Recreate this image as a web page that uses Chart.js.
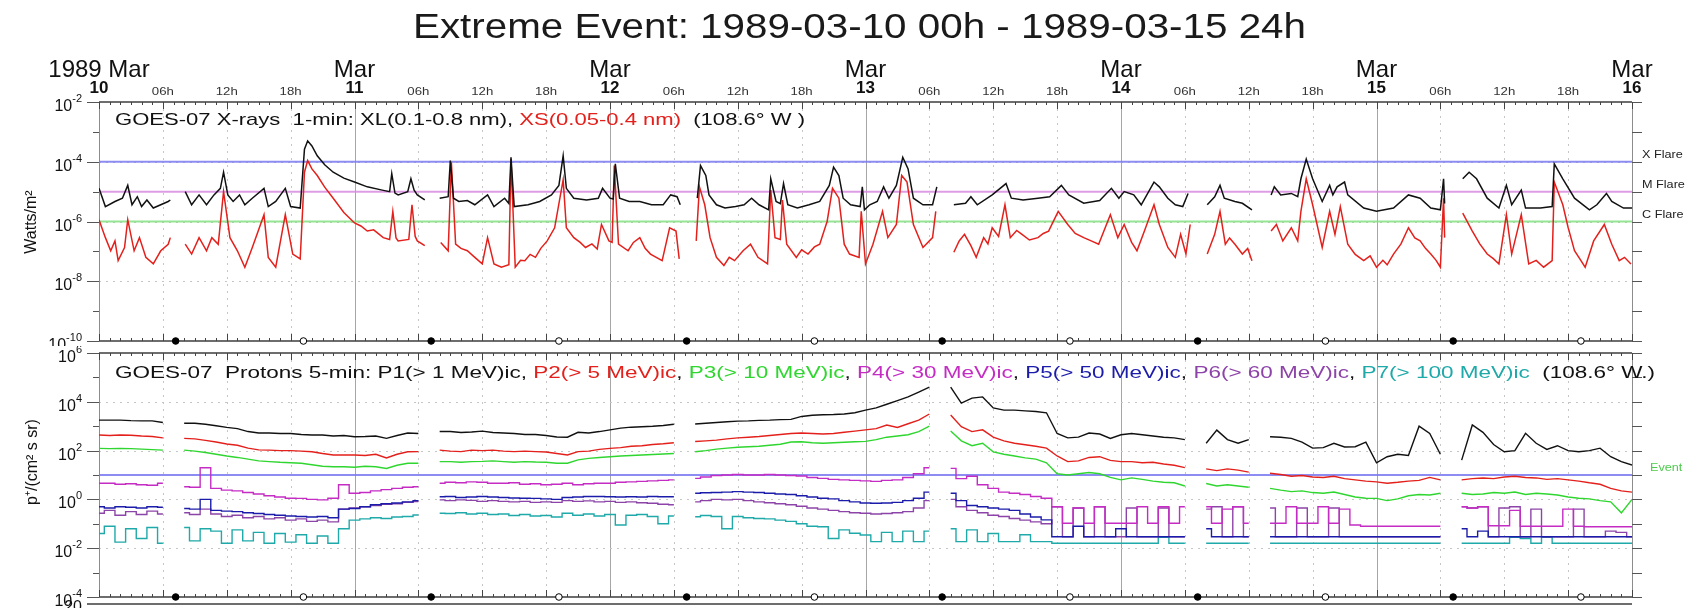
<!DOCTYPE html>
<html>
<head>
<meta charset="utf-8">
<title>Extreme Event: 1989-03-10 00h - 1989-03-15 24h</title>
<script src="https://cdn.jsdelivr.net/npm/chart.js@4.4.1/dist/chart.umd.min.js"></script>
<style>
  body { margin: 0; background: #fff; }
  #page { position: relative; width: 1692px; height: 608px; overflow: hidden; background: #fff;
          font-family: "Liberation Sans", Arial, Helvetica, sans-serif; color: #111; }
  canvas { position: absolute; left: 0; }
  .fit { position: absolute; white-space: pre; transform-origin: 0 0; }
  .ytitle { position: absolute; white-space: nowrap; font-size: 16px; transform: translate(-50%, -50%) rotate(-90deg); }
</style>
</head>
<body>
<div id="page">
  <canvas id="xray" width="1692" height="346" style="top:0"></canvas>
  <canvas id="protons" width="1692" height="262" style="top:346px"></canvas>

  <div class="fit" data-left="413" data-width="893" style="top:8px;font-size:35px;line-height:35px;color:#1a1a1a">Extreme Event: 1989-03-10 00h - 1989-03-15 24h</div>
  <div class="fit" data-left="115" data-width="690" style="top:111px;font-size:17px;line-height:17px">GOES-07 X-rays  1-min: XL(0.1-0.8 nm), <span style="color:#e3201b">XS(0.05-0.4 nm)</span>  (108.6° W )</div>
  <div class="fit" data-left="115" data-width="1540" style="top:364px;font-size:17px;line-height:17px">GOES-07  Protons 5-min: P1(&gt; 1 MeV)ic, <span style="color:#e3201b">P2(&gt; 5 MeV)ic</span>, <span style="color:#2fd62f">P3(&gt; 10 MeV)ic</span>, <span style="color:#c42cc4">P4(&gt; 30 MeV)ic</span>, <span style="color:#1c1caa">P5(&gt; 50 MeV)ic</span>, <span style="color:#8d44a8">P6(&gt; 60 MeV)ic</span>, <span style="color:#1fa9a9">P7(&gt; 100 MeV)ic</span>  (108.6° W.)</div>
  <div class="ytitle" style="left:31px;top:222px">Watts/m²</div>
  <div class="ytitle" style="left:31px;top:462px">p⁺/(cm² s sr)</div>
</div>

<script>
// time axis: hours since 1989-03-10 00 UT
var DAY_LABELS = ["10", "11", "12", "13", "14", "15", "16"];
var MONTH_LABELS = ["1989 Mar", "Mar", "Mar", "Mar", "Mar", "Mar", "Mar"];
var HOUR_LABELS = ["06h", "12h", "18h"];
var XRAY_EXP = [-2, -4, -6, -8, -10];
var PROTON_EXP = [6, 4, 2, 0, -2, -4];

// local midnight / noon at 108.6 W (UT hours)
var MIDNIGHT_UT = [7.2, 31.2, 55.2, 79.2, 103.2, 127.2];
var NOON_UT = [19.2, 43.2, 67.2, 91.2, 115.2, 139.2];

var FLARE_LEVELS = [1e-4, 1e-5, 1e-6];
var FLARE_NAMES = ["X Flare", "M Flare", "C Flare"];
var EVENT_LEVEL = 10;

// X-rays, [hour, log10(W/m2)]
var XL_LOG = [
  [0,-4.89],[0.6,-5.50],[1.5,-5.33],[2.2,-5.22],[2.7,-4.79],[3.1,-5.44],[3.6,-5.17],[4.0,-5.50],[4.5,-5.28],[5.1,-5.55],
  [5.8,-5.44],[6.5,-5.33],[6.7,-5.28],[7.4,null],
  [8.1,-5.00],[8.7,-5.44],[9.4,-5.11],[10.1,-5.44],[10.8,-5.11],[11.4,-4.89],[11.7,-4.35],[12.1,-5.11],[12.6,-5.33],[13.2,-5.11],
  [13.7,-5.44],[14.4,-5.22],[15.5,-4.89],[15.9,-5.50],[16.6,-5.33],[17.5,-4.89],[18.0,-5.50],[18.9,-5.55],[19.3,-3.58],[19.6,-3.30],
  [20.0,-3.47],[20.5,-3.80],[21.2,-4.10],[22.0,-4.35],[23.0,-4.55],[24.0,-4.68],[25.2,-4.84],[26.6,-4.95],[27.3,-5.00],[27.5,-4.40],
  [27.8,-5.05],[28.1,-5.11],[29.0,-5.00],[29.3,-4.57],[29.6,-4.95],[29.9,-5.11],[30.6,-5.28],[31.3,null],
  [32.0,-5.22],[32.8,-5.17],[33.0,-3.96],[33.3,-5.22],[33.8,-5.33],[34.6,-5.30],[35.3,-5.44],[36.5,-5.11],[37.1,-5.50],[38.1,-5.22],
  [38.5,-5.40],[38.7,-3.85],[39.0,-5.50],[40.3,-5.44],[41.4,-5.33],[42.5,-5.11],[43.2,-4.79],[43.6,-3.80],[43.9,-4.89],[44.6,-5.22],
  [45.8,-5.28],[46.9,-5.22],[47.3,-4.89],[48.0,-5.22],[48.3,-5.25],[48.5,-4.07],[48.9,-5.22],[49.8,-5.33],[50.8,-5.33],[51.9,-5.44],
  [53.0,-5.44],[53.7,-5.11],[54.3,-5.17],[54.6,-5.44],[55.4,null],
  [56.2,-5.22],[56.5,-4.13],[57.0,-4.46],[57.3,-5.11],[58.0,-5.44],[58.8,-5.55],[59.8,-5.50],[60.6,-5.44],[61.3,-5.22],[62.0,-5.44],
  [62.9,-5.61],[63.1,-4.57],[63.6,-5.33],[64.0,-5.40],[64.3,-4.73],[64.7,-5.44],[65.6,-5.55],[66.7,-5.44],[67.7,-5.33],[68.6,-4.79],
  [69.0,-4.18],[69.5,-4.46],[69.9,-5.22],[70.6,-5.44],[71.5,-5.50],[71.7,-4.84],[71.9,-5.61],[72.4,-5.44],[73.1,-5.33],[73.7,-4.84],
  [74.2,-5.22],[74.9,-4.79],[75.5,-3.85],[76.0,-4.24],[76.5,-5.22],[77.4,-5.44],[78.3,-5.44],[78.7,-4.84],[79.5,null],
  [80.3,-5.44],[81.4,-5.39],[81.9,-5.17],[82.5,-5.44],[83.9,-5.11],[85.2,-4.73],[85.7,-5.22],[86.8,-5.28],[88.2,-5.22],[89.3,-5.17],
  [90.4,-4.79],[91.1,-5.11],[92.5,-5.39],[94.0,-5.30],[95.1,-4.89],[95.8,-5.22],[96.3,-5.00],[97.2,-5.11],[97.9,-5.44],[99.1,-4.68],
  [99.6,-4.84],[100.4,-5.22],[101.1,-5.44],[101.8,-5.50],[102.3,-5.06],[103.2,null],
  [104.1,-5.44],[104.8,-5.17],[105.3,-4.79],[105.7,-5.22],[106.7,-5.33],[107.4,-5.39],[108.3,-5.61],[109.2,null],
  [110.1,-5.11],[110.4,-4.84],[111.0,-5.11],[112.0,-5.06],[112.6,-5.17],[112.9,-4.57],[113.4,-3.91],[114.0,-4.57],[114.9,-5.33],[115.6,-4.79],
  [115.9,-5.11],[116.3,-4.84],[117.0,-4.68],[117.3,-5.11],[118.8,-5.55],[120.0,-5.66],[121.6,-5.55],[123.0,-5.11],[124.1,-5.22],[125.1,-5.55],
  [126.0,-5.61],[126.3,-4.57],[126.4,-5.40],[127.2,null],
  [128.1,-4.57],[128.7,-4.35],[129.4,-4.57],[130.4,-5.22],[131.5,-5.55],[132.2,-4.79],[132.7,-5.44],[133.6,-4.95],[134.0,-5.55],[135.4,-5.55],
  [136.5,-5.50],[136.7,-4.07],[137.5,-4.57],[138.6,-5.22],[140.0,-5.61],[140.7,-5.44],[141.6,-5.06],[142.1,-5.33],[143.2,-5.55],[144.0,-5.55]
];
var XS_LOG = [
  [0,-5.94],[0.6,-6.54],[1.1,-6.98],[1.5,-6.65],[1.8,-7.31],[2.4,-6.87],[2.7,-5.94],[3.3,-6.98],[3.8,-6.54],[4.4,-7.20],
  [5.1,-7.42],[5.8,-6.98],[6.5,-6.76],[6.7,-6.54],[7.4,null],
  [8.1,-6.76],[8.7,-7.09],[9.4,-6.54],[10.1,-6.98],[10.6,-6.54],[11.2,-6.76],[11.7,-5.00],[12.3,-6.54],[13.0,-6.98],[13.7,-7.53],
  [14.4,-6.87],[15.5,-5.77],[15.9,-7.20],[16.6,-7.53],[17.5,-5.77],[18.2,-7.09],[18.9,-7.25],[19.3,-4.35],[19.6,-3.96],[20.0,-4.24],
  [20.5,-4.46],[21.2,-4.85],[22.0,-5.22],[23.0,-5.70],[24.0,-6.05],[24.6,-6.15],[25.2,-6.32],[25.8,-6.28],[26.7,-6.54],[27.3,-6.60],[27.6,-5.66],[27.9,-6.55],
  [28.1,-6.65],[29.1,-6.60],[29.4,-5.44],[29.7,-6.50],[29.9,-6.65],[30.6,-6.81],[31.3,null],
  [32.1,-6.70],[32.8,-6.98],[33.1,-4.02],[33.5,-6.76],[34.0,-6.90],[34.6,-6.98],[35.3,-7.20],[36.0,-7.42],[36.5,-6.54],[37.1,-7.42],[37.8,-7.53],
  [38.5,-7.45],[38.7,-3.91],[39.1,-7.53],[39.6,-7.30],[40.0,-7.31],[40.5,-7.10],[41.0,-7.20],[41.5,-6.90],[42.1,-6.65],[42.8,-6.21],[43.6,-4.60],[43.9,-6.21],[44.6,-6.54],
  [45.2,-6.70],[45.7,-6.87],[46.3,-6.75],[46.8,-6.92],[47.2,-6.10],[47.9,-6.65],[48.2,-6.70],[48.4,-4.13],[48.8,-6.76],[49.7,-6.98],[50.2,-6.70],[50.8,-6.54],[51.3,-6.90],[51.8,-7.09],
  [52.9,-7.31],[53.6,-6.21],[54.2,-6.32],[54.5,-7.25],[55.4,null],
  [56.1,-6.65],[56.4,-4.84],[56.9,-5.44],[57.4,-6.54],[58.0,-7.20],[58.7,-7.47],[59.2,-7.20],[59.7,-7.31],[60.5,-6.98],[61.2,-6.76],[61.9,-7.20],
  [62.8,-7.42],[63.1,-4.95],[63.5,-6.54],[64.0,-6.60],[64.2,-5.28],[64.6,-6.76],[65.5,-7.20],[66.0,-6.95],[66.6,-7.09],[67.2,-6.85],[67.7,-6.76],[68.4,-5.99],
  [68.9,-4.89],[69.5,-5.22],[70.0,-6.76],[70.5,-7.09],[71.4,-7.20],[71.6,-5.66],[72.0,-7.42],[72.7,-6.76],[73.6,-5.66],[74.1,-6.54],
  [74.9,-6.10],[75.4,-4.46],[75.9,-4.68],[76.5,-6.10],[77.4,-6.87],[78.3,-6.54],[78.6,-5.66],[79.5,null],
  [80.3,-7.03],[80.8,-6.65],[81.3,-6.43],[81.9,-6.81],[82.4,-7.20],[83.1,-6.54],[83.5,-6.75],[83.9,-6.21],[84.5,-6.50],[85.1,-5.44],[85.6,-6.54],[86.2,-6.30],[86.7,-6.43],
  [87.4,-6.62],[88.2,-6.54],[88.7,-6.40],[89.2,-6.32],[90.1,-5.66],[91.0,-6.10],[91.7,-6.40],[92.5,-6.54],[93.2,-6.65],[93.9,-6.76],[95.0,-5.77],[95.7,-6.54],[96.3,-6.10],[97.0,-6.70],[97.5,-6.98],
  [98.2,-6.32],[99.1,-5.44],[99.6,-6.10],[100.4,-6.87],[101.1,-7.20],[101.6,-6.43],[102.1,-7.09],[102.5,-6.10],[103.2,null],
  [104.1,-7.09],[104.8,-6.43],[105.3,-5.66],[105.8,-6.76],[106.2,-6.55],[106.7,-6.76],[107.4,-7.09],[107.9,-6.90],[108.3,-7.31],[109.2,null],
  [110.1,-6.32],[110.6,-6.10],[111.2,-6.65],[112.0,-6.21],[112.6,-6.65],[112.9,-5.66],[113.4,-4.57],[114.0,-5.44],[114.9,-6.87],[115.6,-5.66],
  [116.1,-6.43],[116.6,-5.50],[117.3,-6.76],[118.0,-7.10],[118.8,-7.31],[119.4,-7.15],[120.0,-7.53],[120.6,-7.30],[121.0,-7.45],[121.6,-7.09],[122.3,-6.75],[123.0,-6.21],[123.6,-6.55],[124.1,-6.65],[124.6,-6.90],[125.1,-7.09],[125.6,-7.30],[126.0,-7.53],
  [126.3,-5.22],[126.4,-6.54],[127.2,null],
  [128.1,-5.72],[129.0,-6.32],[129.7,-6.75],[130.4,-7.09],[131.0,-7.25],[131.5,-7.42],[132.2,-5.77],[132.7,-7.09],[133.6,-5.77],[134.3,-7.42],[135.0,-7.30],[135.7,-7.53],[136.5,-7.31],
  [136.7,-4.68],[137.5,-5.44],[138.0,-6.20],[138.6,-6.98],[139.1,-7.25],[139.6,-7.53],[140.4,-6.65],[141.4,-6.10],[142.1,-6.76],[142.8,-7.31],[143.3,-7.20],[143.9,-7.42]
];

// protons, hourly log10 flux, hours 0..144
var P1_LOG = [
  3.25, 3.25, 3.25, 3.23, 3.22, 3.22, 3.15, null, 3.12, 3.12,
  3.08, 3.02, 2.95, 2.90, 2.78, 2.72, 2.72, 2.70, 2.70, 2.66,
  2.64, 2.64, 2.60, 2.62, 2.57, 2.58, 2.60, 2.50, 2.62, 2.72,
  2.70, null, 2.78, 2.78, 2.74, 2.76, 2.80, 2.74, 2.72, 2.70,
  2.66, 2.66, 2.62, 2.56, 2.55, 2.75, 2.72, 2.78, 2.85, 2.92,
  2.96, 2.98, 3.00, 3.03, 3.08, null, 3.09, 3.12, 3.15, 3.18,
  3.21, 3.22, 3.24, 3.25, 3.27, 3.28, 3.40, 3.45, 3.47, 3.48,
  3.50, 3.55, 3.66, 3.75, 3.90, 4.05, 4.20, 4.40, 4.60, null,
  4.60, 3.95, 4.15, 4.20, 3.75, 3.66, 3.66, 3.63, 3.60, 3.55,
  2.70, 2.52, 2.55, 2.72, 2.68, 2.50, 2.65, 2.70, 2.65, 2.60,
  2.55, 2.52, 2.45, null, 2.30, 2.84, 2.45, 2.30, 2.45, null,
  2.57, 2.55, 2.50, 2.35, 2.10, 2.12, 2.30, 2.15, 2.16, 2.35,
  1.50, 1.75, 1.85, 1.80, 3.00, 2.70, 1.85, null, 1.61, 3.05,
  2.75, 2.25, 1.95, 2.00, 2.71, 2.30, 2.05, 2.20, 2.00, 1.95,
  2.00, 2.10, 1.75, 1.55, 1.41
];
var P2_LOG = [
  2.64, 2.62, 2.64, 2.63, 2.60, 2.58, 2.52, null, 2.50, 2.48,
  2.42, 2.35, 2.27, 2.22, 2.10, 2.03, 2.02, 2.00, 2.00, 1.98,
  1.95, 1.88, 1.82, 1.82, 1.82, 1.80, 1.85, 1.70, 1.85, 1.95,
  1.96, null, 2.02, 1.98, 1.96, 2.02, 2.00, 2.02, 1.98, 1.96,
  1.98, 1.96, 1.94, 1.88, 1.82, 1.96, 1.98, 2.05, 2.09, 2.12,
  2.18, 2.20, 2.25, 2.28, 2.32, null, 2.37, 2.40, 2.43, 2.48,
  2.52, 2.55, 2.58, 2.62, 2.66, 2.70, 2.72, 2.70, 2.68, 2.70,
  2.75, 2.80, 2.85, 2.90, 3.05, 2.95, 3.10, 3.25, 3.50, null,
  3.46, 2.98, 2.78, 2.85, 2.55, 2.40, 2.30, 2.24, 2.18, 2.10,
  1.78, 1.55, 1.58, 1.72, 1.75, 1.60, 1.55, 1.55, 1.50, 1.52,
  1.45, 1.40, 1.30, null, 1.25, 1.18, 1.25, 1.20, 1.12, null,
  1.07, 1.02, 0.95, 0.98, 0.92, 0.90, 0.95, 0.85, 0.80, 0.75,
  0.72, 0.66, 0.70, 0.75, 0.78, 0.90, 0.80, null, 0.80, 0.85,
  0.88, 0.85, 0.92, 0.95, 0.90, 0.88, 0.82, 0.85, 0.80, 0.75,
  0.68, 0.62, 0.45, 0.35, 0.30
];
var P3_LOG = [
  2.09, 2.08, 2.09, 2.08, 2.06, 2.04, 2.02, null, 2.02, 1.98,
  1.92, 1.85, 1.78, 1.72, 1.65, 1.58, 1.55, 1.52, 1.50, 1.48,
  1.42, 1.36, 1.34, 1.34, 1.32, 1.36, 1.34, 1.27, 1.40, 1.48,
  1.48, null, 1.55, 1.55, 1.52, 1.55, 1.56, 1.58, 1.55, 1.52,
  1.55, 1.53, 1.52, 1.48, 1.48, 1.62, 1.68, 1.72, 1.75, 1.78,
  1.80, 1.82, 1.84, 1.86, 1.88, null, 1.95, 2.00, 2.06, 2.10,
  2.14, 2.16, 2.18, 2.22, 2.26, 2.35, 2.36, 2.32, 2.30, 2.32,
  2.34, 2.36, 2.38, 2.45, 2.55, 2.60, 2.65, 2.78, 3.00, null,
  2.80, 2.40, 2.20, 2.30, 1.95, 1.85, 1.78, 1.70, 1.65, 1.50,
  1.05, 1.00, 1.05, 1.10, 1.05, 0.90, 0.80, 0.88, 0.82, 0.75,
  0.70, 0.68, 0.55, null, 0.65, 0.55, 0.60, 0.55, 0.50, null,
  0.45, 0.38, 0.32, 0.35, 0.28, 0.25, 0.30, 0.20, 0.10, 0.05,
  0.04, -0.05, 0.02, 0.15, 0.20, 0.18, 0.25, null, 0.25, 0.20,
  0.22, 0.28, 0.25, 0.30, 0.20, 0.25, 0.22, 0.18, 0.10, 0.05,
  0.02, -0.05, -0.10, -0.55, 0.00
];
var P4_LOG = [
  0.66, 0.66, 0.62, 0.64, 0.60, 0.58, 0.66, null, 0.52, 0.50,
  1.30, 0.45, 0.38, 0.35, 0.28, 0.22, 0.15, 0.10, 0.05, 0.04,
  0.00, -0.02, 0.05, 0.60, 0.25, 0.28, 0.35, 0.40, 0.45, 0.50,
  0.52, null, 0.66, 0.70, 0.68, 0.72, 0.70, 0.66, 0.66, 0.68,
  0.62, 0.64, 0.60, 0.62, 0.66, 0.60, 0.64, 0.66, 0.66, 0.70,
  0.72, 0.74, 0.76, 0.78, 0.80, null, 0.86, 0.92, 0.98, 1.00,
  1.02, 1.00, 1.00, 1.02, 1.00, 0.98, 0.96, 0.90, 0.86, 0.82,
  0.80, 0.78, 0.76, 0.74, 0.78, 0.80, 0.90, 1.05, 1.30, null,
  1.27, 0.85, 0.95, 0.60, 0.45, 0.30, 0.25, 0.20, 0.12, 0.05,
  -0.30, -0.98, -0.35, -0.98, -0.30, -0.98, -0.98, -0.98, -0.30, -0.98,
  -0.30, -0.98, -0.30, null, -0.30, -0.98, -0.40, -0.30, -0.98, null,
  -0.98, -0.98, -0.30, -0.98, -0.98, -0.30, -0.98, -0.40, -1.05, -1.10,
  -1.10, -1.10, -1.10, -1.10, -1.10, -1.10, -1.10, null, -0.30, -0.35,
  -0.30, -1.08, -1.08, -0.45, -1.10, -1.10, -1.10, -1.10, -0.40, -1.10,
  -1.12, -1.12, -1.12, -1.12, -1.12
];
var P5_LOG = [
  -0.30, -0.35, -0.30, -0.32, -0.35, -0.30, -0.32, null, -0.37, -0.40,
  0.00, -0.45, -0.48, -0.50, -0.55, -0.58, -0.62, -0.65, -0.68, -0.70,
  -0.72, -0.70, -0.75, -0.40, -0.37, -0.30, -0.22, -0.18, -0.15, -0.10,
  -0.05, null, 0.11, 0.12, 0.08, 0.10, 0.12, 0.10, 0.08, 0.06,
  0.05, 0.04, 0.02, 0.00, 0.08, 0.10, 0.12, 0.12, 0.11, 0.10,
  0.11, 0.10, 0.12, 0.11, 0.11, null, 0.25, 0.27, 0.28, 0.30,
  0.32, 0.30, 0.28, 0.25, 0.22, 0.20, 0.15, 0.10, 0.05, 0.02,
  -0.05, -0.10, -0.15, -0.16, -0.15, -0.12, -0.05, 0.05, 0.30, null,
  0.25, -0.05, -0.25, -0.30, -0.35, -0.40, -0.45, -0.60, -0.72, -0.84,
  -1.53, -1.53, -1.10, -1.53, -1.53, -1.53, -1.20, -1.53, -1.53, -1.53,
  -1.53, -1.53, -1.53, null, -1.20, -1.53, -1.53, -1.53, -1.53, null,
  -1.53, -1.53, -1.53, -1.53, -1.53, -1.53, -1.53, -1.53, -1.53, -1.53,
  -1.53, -1.53, -1.53, -1.53, -1.53, -1.53, -1.53, null, -1.20, -1.53,
  -1.30, -1.53, -1.53, -1.53, -1.53, -1.53, -1.53, -1.53, -1.53, -1.53,
  -1.53, -1.53, -1.53, -1.53, -1.53
];
var P6_LOG = [
  -0.57, -0.45, -0.65, -0.50, -0.62, -0.48, -0.60, null, -0.55, -0.62,
  -0.40, -0.60, -0.70, -0.65, -0.75, -0.70, -0.80, -0.75, -0.85, -0.80,
  -0.90, -0.85, -0.92, -0.40, -0.35, -0.30, -0.25, -0.20, -0.18, -0.12,
  -0.09, null, -0.02, -0.05, -0.02, -0.04, -0.08, -0.05, -0.08, -0.10,
  -0.08, -0.12, -0.10, -0.12, -0.05, -0.08, -0.06, -0.10, -0.08, -0.12,
  -0.10, -0.14, -0.16, -0.20, -0.22, null, -0.10, -0.05, 0.00, -0.02,
  0.00, -0.05, -0.10, -0.14, -0.18, -0.22, -0.28, -0.35, -0.40, -0.45,
  -0.50, -0.55, -0.57, -0.60, -0.58, -0.55, -0.50, -0.35, -0.05, null,
  0.00, -0.30, -0.45, -0.55, -0.65, -0.70, -0.78, -0.85, -0.92, -1.00,
  -0.30, -1.53, -0.35, -1.53, -0.30, -1.53, -1.53, -0.35, -1.53, -1.53,
  -0.35, -1.53, -1.53, null, -0.40, -0.30, -1.53, -0.30, -1.53, null,
  -0.35, -1.53, -1.53, -0.35, -1.53, -1.53, -0.35, -1.53, -1.53, -1.53,
  -1.53, -1.53, -1.53, -1.53, -1.53, -1.53, -1.53, null, -0.30, -0.35,
  -0.30, -1.53, -0.35, -0.30, -1.53, -0.40, -1.53, -1.53, -1.53, -0.40,
  -1.53, -1.53, -1.30, -1.35, -1.53
];
var P7_LOG = [
  -1.40, -1.10, -1.75, -1.20, -1.60, -1.15, -1.80, null, -1.15, -1.70,
  -1.20, -1.30, -1.80, -1.25, -1.70, -1.35, -1.80, -1.40, -1.75, -1.45,
  -1.80, -1.50, -1.80, -1.20, -0.85, -0.80, -0.75, -0.78, -0.72, -0.70,
  -0.64, null, -0.57, -0.58, -0.55, -0.60, -0.57, -0.62, -0.60, -0.66,
  -0.62, -0.68, -0.66, -0.72, -0.57, -0.65, -0.60, -0.68, -0.62, -1.05,
  -0.65, -0.62, -0.70, -1.00, -0.68, null, -0.71, -0.66, -0.70, -1.20,
  -0.70, -0.75, -0.78, -0.80, -0.85, -0.90, -1.00, -1.10, -1.12, -1.60,
  -1.25, -1.39, -1.46, -1.73, -1.35, -1.73, -1.30, -1.73, -1.30, null,
  -1.20, -1.73, -1.25, -1.73, -1.40, -1.73, -1.73, -1.45, -1.73, -1.73,
  -1.80, -1.80, -1.80, -1.80, -1.80, -1.80, -1.80, -1.80, -1.80, -1.80,
  -1.55, -1.80, -1.80, null, -1.80, -1.80, -1.80, -1.80, -1.80, null,
  -1.80, -1.80, -1.80, -1.80, -1.80, -1.80, -1.80, -1.80, -1.80, -1.80,
  -1.80, -1.80, -1.80, -1.80, -1.80, -1.80, -1.80, null, -1.80, -1.80,
  -1.80, -1.80, -1.80, -1.55, -1.60, -1.80, -1.55, -1.80, -1.80, -1.80,
  -1.80, -1.80, -1.80, -1.80, -1.80
];

var FONT = '"Liberation Sans", Arial, Helvetica, sans-serif';

function pairsToPoints(pairs) {
  return pairs.map(function (p) { return { x: p[0], y: p[1] === null ? null : Math.pow(10, p[1]) }; });
}
function hourlyToPoints(vals) {
  return vals.map(function (v, i) { return { x: i, y: v === null ? null : Math.pow(10, v) }; });
}

function txt(ctx, s, x, y, font, color, align, base, sx) {
  ctx.save();
  ctx.font = font;
  ctx.fillStyle = color;
  ctx.textAlign = align;
  ctx.textBaseline = base;
  ctx.translate(x, y);
  ctx.scale(sx || 1, 1);
  ctx.fillText(s, 0, 0);
  ctx.restore();
}

// "10" with a raised exponent, right aligned at xr
function powLabel(ctx, exp, xr, y) {
  var e = String(exp);
  ctx.font = "11px " + FONT;
  var ew = ctx.measureText(e).width;
  txt(ctx, e, xr, y - 4, "11px " + FONT, "#111", "right", "middle");
  txt(ctx, "10", xr - ew, y + 4, "16px " + FONT, "#111", "right", "middle");
}

function line(ctx, x1, y1, x2, y2) {
  ctx.beginPath();
  ctx.moveTo(x1, y1);
  ctx.lineTo(x2, y2);
  ctx.stroke();
}

var panelFrame = {
  id: "panelFrame",
  beforeDatasetsDraw: function (chart, args, o) {
    var ctx = chart.ctx, a = chart.chartArea;
    var x = chart.scales.x, y = chart.scales.y;
    var eMin = Math.round(Math.log10(y.min)), eMax = Math.round(Math.log10(y.max));
    ctx.save();

    // vertical grid: solid at day boundaries, dotted every 6 h
    ctx.lineWidth = 1;
    for (var h = 6; h < 144; h += 6) {
      var gx = Math.round(x.getPixelForValue(h)) + 0.5;
      if (h % 24 === 0) { ctx.setLineDash([]); ctx.strokeStyle = "#a6a6a6"; }
      else { ctx.setLineDash([2, 5]); ctx.strokeStyle = "#c6c6c6"; }
      line(ctx, gx, a.top, gx, a.bottom);
    }
    // dotted horizontals at labelled decades
    ctx.setLineDash([2, 5]);
    ctx.strokeStyle = "#c6c6c6";
    o.labels.forEach(function (e) {
      var gy = Math.round(y.getPixelForValue(Math.pow(10, e))) + 0.5;
      if (gy > a.top + 2 && gy < a.bottom - 2) line(ctx, a.left, gy, a.right, gy);
    });
    ctx.setLineDash([]);

    // frame
    ctx.strokeStyle = "#8c8c8c";
    ctx.lineWidth = 1;
    line(ctx, a.left + 0.5, a.top, a.left + 0.5, a.bottom);
    line(ctx, a.right + 0.5, a.top, a.right + 0.5, a.bottom);
    ctx.strokeStyle = "#3c3c3c";
    ctx.lineWidth = 1.5;
    line(ctx, a.left, a.top, a.right, a.top);
    line(ctx, a.left, a.bottom, a.right, a.bottom);

    // y ticks both sides, labels on the left
    ctx.lineWidth = 1;
    ctx.strokeStyle = "#555";
    for (var e = eMin; e <= eMax; e++) {
      var ty = Math.round(y.getPixelForValue(Math.pow(10, e))) + 0.5;
      var major = o.labels.indexOf(e) >= 0;
      line(ctx, a.left - (major ? 12 : 6), ty, a.left, ty);
      line(ctx, a.right, ty, a.right + 10, ty);
      if (major) powLabel(ctx, e, 82, ty);
    }

    // x ticks on top and bottom edges, pointing inward
    ctx.strokeStyle = "#444";
    for (var t = 0; t <= 144; t++) {
      var tx = Math.round(x.getPixelForValue(t)) + 0.5;
      var len = t % 6 === 0 ? 7 : 3;
      line(ctx, tx, a.top, tx, a.top + len);
      line(ctx, tx, a.bottom, tx, a.bottom - len);
    }

    // date / hour labels above the top panel
    if (o.dateLabels) {
      DAY_LABELS.forEach(function (d, i) {
        var dx = x.getPixelForValue(24 * i);
        txt(ctx, MONTH_LABELS[i], dx, 77, "24px " + FONT, "#111", "center", "alphabetic");
        txt(ctx, d, dx, 93, "bold 17px " + FONT, "#111", "center", "alphabetic");
        if (i < DAY_LABELS.length - 1) {
          HOUR_LABELS.forEach(function (hl, j) {
            txt(ctx, hl, x.getPixelForValue(24 * i + 6 * (j + 1)), 95, "11px " + FONT, "#333", "center", "alphabetic", 1.2);
          });
        }
      });
    }

    // labels right of the reference lines
    (o.refLabels || []).forEach(function (r) {
      txt(ctx, r.text, a.right + r.dx, y.getPixelForValue(r.value) - 7, "11px " + FONT, r.color, "left", "middle", 1.15);
    });

    // top edge of the next panel, cut by the page
    if (o.nextPanel) {
      ctx.strokeStyle = "#3c3c3c";
      ctx.lineWidth = 1.5;
      line(ctx, a.left - 12, 258, a.right, 258);
      txt(ctx, "20", 82, 262, "16px " + FONT, "#111", "right", "middle");
    }
    ctx.restore();
  }
};

function markerSet(hours, yv, fill) {
  return {
    data: hours.map(function (h) { return { x: h, y: yv }; }),
    showLine: false, pointRadius: 3.3, pointBorderWidth: 1,
    pointBackgroundColor: fill, pointBorderColor: "#000", borderColor: "#000", clip: false
  };
}
function levelSet(v, color) {
  return { data: [{ x: 0, y: v }, { x: 144, y: v }], borderColor: color, borderWidth: 2, pointRadius: 0 };
}
function seriesSet(points, color, width, stepped) {
  return { data: points, borderColor: color, borderWidth: width, pointRadius: 0, spanGaps: false, stepped: stepped || false };
}

function options(pad, yMin, yMax, frameOpts) {
  return {
    responsive: false,
    animation: false,
    layout: { padding: pad },
    plugins: { legend: { display: false }, tooltip: { enabled: false }, panelFrame: frameOpts },
    elements: { line: { tension: 0 } },
    scales: {
      x: { type: "linear", min: 0, max: 144, display: false },
      y: { type: "logarithmic", min: yMin, max: yMax, display: false }
    }
  };
}

new Chart(document.getElementById("xray"), {
  type: "line",
  data: {
    datasets: [
      markerSet(MIDNIGHT_UT, 1e-10, "#000"),
      markerSet(NOON_UT, 1e-10, "#fff"),
      seriesSet(pairsToPoints(XL_LOG), "#111", 1.5),
      seriesSet(pairsToPoints(XS_LOG), "#e3201b", 1.5),
      levelSet(FLARE_LEVELS[0], "rgba(120,120,240,0.85)"),
      levelSet(FLARE_LEVELS[1], "rgba(215,140,225,0.85)"),
      levelSet(FLARE_LEVELS[2], "rgba(130,225,130,0.85)")
    ]
  },
  options: options({ left: 99, right: 60, top: 102, bottom: 1 }, 1e-10, 1e-2, {
    labels: XRAY_EXP,
    dateLabels: true,
    refLabels: FLARE_LEVELS.map(function (v, i) { return { value: v, text: FLARE_NAMES[i], color: "#222", dx: 10 }; })
  }),
  plugins: [panelFrame]
});

new Chart(document.getElementById("protons"), {
  type: "line",
  data: {
    datasets: [
      markerSet(MIDNIGHT_UT, 1e-4, "#000"),
      markerSet(NOON_UT, 1e-4, "#fff"),
      seriesSet(hourlyToPoints(P1_LOG), "#111", 1.4),
      seriesSet(hourlyToPoints(P2_LOG), "#e3201b", 1.4),
      seriesSet(hourlyToPoints(P3_LOG), "#2fd62f", 1.4),
      seriesSet(hourlyToPoints(P4_LOG), "#c42cc4", 1.4, "middle"),
      seriesSet(hourlyToPoints(P5_LOG), "#1c1caa", 1.4, "middle"),
      seriesSet(hourlyToPoints(P6_LOG), "#8d44a8", 1.4, "middle"),
      seriesSet(hourlyToPoints(P7_LOG), "#1fa9a9", 1.4, "middle"),
      levelSet(EVENT_LEVEL, "rgba(120,120,240,0.85)")
    ]
  },
  options: options({ left: 99, right: 60, top: 7, bottom: 11 }, 1e-4, 1e6, {
    labels: PROTON_EXP,
    refLabels: [{ value: EVENT_LEVEL, text: "Event", color: "#4ccc4c", dx: 18 }],
    nextPanel: true
  }),
  plugins: [panelFrame]
});

// stretch the html titles to the widths they take in the picture
document.querySelectorAll(".fit").forEach(function (el) {
  el.style.left = el.dataset.left + "px";
  var w = el.getBoundingClientRect().width;
  el.style.transform = "scaleX(" + (Number(el.dataset.width) / w) + ")";
});
</script>
</body>
</html>
